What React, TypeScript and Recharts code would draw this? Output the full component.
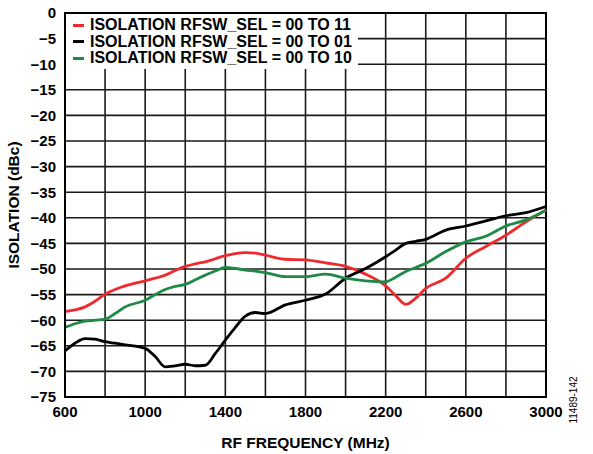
import React from 'react';
import {
  LineChart,
  Line,
  XAxis,
  YAxis,
  CartesianGrid,
  Legend,
  ReferenceArea,
} from 'recharts';

const FREQS = [
  600, 650, 700, 750, 800, 850, 900, 1000, 1050, 1100, 1150, 1200, 1250, 1300, 1350, 1400,
  1450, 1500, 1550, 1600, 1700, 1800, 1900, 2000, 2100, 2200, 2250, 2300, 2350, 2400,
  2500, 2600, 2700, 2800, 2900, 3000,
];

// RFSW_SEL = 00 TO 11
const ISO_00_11 = [
  -58.3, -58.0, -57.4, -56.3, -54.9, -54.0, -53.3, -52.3, -51.8, -51.2, -50.3, -49.5, -49.0, -48.6,
  -48.0, -47.4, -47.0, -46.8, -46.9, -47.3, -48.1, -48.2, -48.8, -49.5, -51.0, -53.3, -55.2,
  -56.9, -55.7, -53.8, -51.8, -47.9, -45.6, -43.4, -40.8, -38.5,
];

// RFSW_SEL = 00 TO 01
const ISO_00_01 = [
  -66.0, -64.5, -63.6, -63.7, -64.2, -64.5, -64.8, -65.5, -67.1, -69.1, -68.9, -68.6, -68.9, -68.8,
  -66.5, -63.9, -61.4, -59.2, -58.5, -58.7, -57.0, -56.1, -54.9, -51.8, -49.9, -47.6, -46.3,
  -45.0, -44.6, -44.2, -42.4, -41.6, -40.6, -39.6, -39.0, -37.8,
];

// RFSW_SEL = 00 TO 10
const ISO_00_10 = [
  -61.4, -60.7, -60.2, -60.0, -59.8, -58.7, -57.4, -56.1, -55.0, -54.0, -53.4, -53.0, -52.1, -51.2,
  -50.4, -49.7, -49.9, -50.2, -50.4, -50.7, -51.5, -51.5, -51.0, -51.8, -52.3, -52.5, -51.6,
  -50.5, -49.7, -48.9, -46.6, -44.7, -43.6, -41.6, -40.4, -38.5,
];

const X_TICKS = [600, 800, 1000, 1200, 1400, 1600, 1800, 2000, 2200, 2400, 2600, 2800, 3000];
const Y_TICKS = [0, -5, -10, -15, -20, -25, -30, -35, -40, -45, -50, -55, -60, -65, -70, -75];

const SERIES = [
  { key: 's11', name: 'ISOLATION RFSW_SEL = 00 TO 11', color: '#EE2A2E', values: ISO_00_11 },
  { key: 's01', name: 'ISOLATION RFSW_SEL = 00 TO 01', color: '#000000', values: ISO_00_01 },
  { key: 's10', name: 'ISOLATION RFSW_SEL = 00 TO 10', color: '#1E8A46', values: ISO_00_10 },
];

const data = FREQS.map((f, i) => {
  const row: Record<string, number> = { freq: f };
  SERIES.forEach(s => {
    row[s.key] = s.values[i];
  });
  return row;
});

const FONT = 'Arial, "Liberation Sans", Helvetica, sans-serif';

const fmtMinus = (v: number) => (v < 0 ? `\u2212${Math.abs(v)}` : `${v}`);

const LegendBox = () => (
  <div
    style={{
      background: '#fff',
      width: 292,
      height: 55,
      paddingTop: 3,
      boxSizing: 'border-box',
      fontFamily: FONT,
      fontWeight: 700,
      fontSize: 16,
      lineHeight: '16.5px',
      color: '#000',
    }}
  >
    {SERIES.map(s => (
      <div key={s.key} style={{ display: 'flex', alignItems: 'center', height: 16.5, whiteSpace: 'nowrap' }}>
        <span style={{ display: 'inline-block', width: 11, height: 3, background: s.color, marginLeft: 7, marginRight: 6 }} />
        <span>{s.name}</span>
      </div>
    ))}
  </div>
);

export default function App() {
  return (
    <div style={{ position: 'absolute', left: 0, top: 0, width: 593, height: 454, background: '#fff' }}>
      <LineChart
        width={593}
        height={454}
        data={data}
        margin={{ top: 13, right: 47, bottom: 0, left: 0 }}
      >
        <CartesianGrid stroke="#1a1a1a" strokeWidth={1.6} />
        <XAxis
          dataKey="freq"
          type="number"
          domain={[600, 3000]}
          ticks={X_TICKS}
          interval={0}
          height={57}
          tickLine={false}
          axisLine={{ stroke: '#000', strokeWidth: 2 }}
          tickMargin={3}
          tickFormatter={(v: number) => ((v - 600) % 400 === 0 ? `${v}` : '')}
          tick={{ fill: '#000', fontSize: 15, fontWeight: 700, fontFamily: FONT }}
          label={{
            value: 'RF FREQUENCY (MHz)',
            position: 'insideBottom',
            offset: 6,
            style: { fill: '#000', fontSize: 15.5, fontWeight: 700, fontFamily: FONT },
          }}
        />
        <YAxis
          type="number"
          domain={[-75, 0]}
          ticks={Y_TICKS}
          interval={0}
          width={65}
          tickLine={false}
          axisLine={{ stroke: '#000', strokeWidth: 2 }}
          tickMargin={3}
          tickFormatter={fmtMinus}
          tick={{ fill: '#000', fontSize: 15, fontWeight: 700, fontFamily: FONT }}
          label={{
            value: 'ISOLATION (dBc)',
            angle: -90,
            position: 'insideLeft',
            offset: 13,
            style: { textAnchor: 'middle', fill: '#000', fontSize: 15.5, fontWeight: 700, fontFamily: FONT },
          }}
        />
        <ReferenceArea x1={600} x2={3000} y1={-75} y2={0} fill="none" stroke="#000" strokeWidth={2} ifOverflow="visible" />
        {SERIES.map(s => (
          <Line
            key={s.key}
            dataKey={s.key}
            name={s.name}
            type="monotone"
            stroke={s.color}
            strokeWidth={2.8}
            dot={false}
            activeDot={false}
            isAnimationActive={false}
          />
        ))}
        <Legend
          layout="vertical"
          align="center"
          verticalAlign="middle"
          content={<LegendBox />}
          wrapperStyle={{ position: 'absolute', left: 66, top: 14, width: 292, height: 55 }}
        />
      </LineChart>
      <div
        style={{
          position: 'absolute',
          left: 573,
          top: 400,
          transform: 'translate(-50%, -50%) rotate(-90deg)',
          fontFamily: FONT,
          fontSize: 10,
          color: '#000',
          whiteSpace: 'nowrap',
        }}
      >
        11489-142
      </div>
    </div>
  );
}
